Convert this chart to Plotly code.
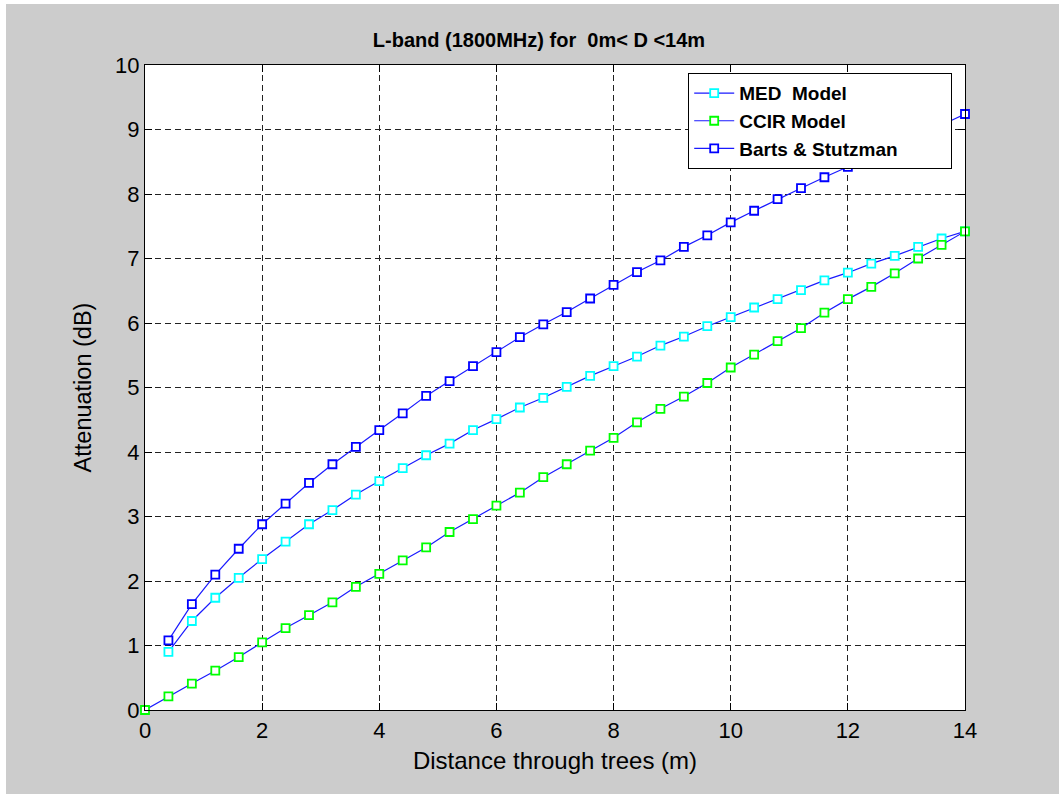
import plotly.graph_objects as go

# ---- data ----
x_ccir = [0, 0.4, 0.8, 1.2, 1.6, 2.0, 2.4, 2.8, 3.2, 3.6, 4.0, 4.4, 4.8, 5.2, 5.6, 6.0, 6.4, 6.8,
          7.2, 7.6, 8.0, 8.4, 8.8, 9.2, 9.6, 10.0, 10.4, 10.8, 11.2, 11.6, 12.0, 12.4, 12.8, 13.2,
          13.6, 14.0]
x_med = x_ccir[1:]
x_barts = x_ccir[1:]

med = [0.90, 1.38, 1.74, 2.05, 2.34, 2.61, 2.88, 3.10, 3.34, 3.55, 3.75, 3.95, 4.13, 4.34, 4.51,
       4.69, 4.84, 5.01, 5.18, 5.33, 5.48, 5.65, 5.79, 5.95, 6.09, 6.24, 6.37, 6.51, 6.66, 6.78,
       6.92, 7.04, 7.18, 7.31, 7.42]

ccir = [0.0, 0.21, 0.41, 0.61, 0.82, 1.05, 1.27, 1.47, 1.67, 1.91, 2.11, 2.32, 2.52, 2.76, 2.96,
        3.17, 3.37, 3.61, 3.81, 4.02, 4.22, 4.46, 4.67, 4.86, 5.07, 5.31, 5.51, 5.72, 5.92, 6.16,
        6.37, 6.56, 6.77, 7.00, 7.21, 7.42]

barts = [1.08, 1.64, 2.10, 2.50, 2.88, 3.20, 3.52, 3.81, 4.08, 4.34, 4.60, 4.87, 5.10, 5.33, 5.55,
         5.78, 5.98, 6.17, 6.38, 6.59, 6.79, 6.97, 7.18, 7.36, 7.56, 7.74, 7.92, 8.09, 8.26, 8.42,
         8.58, 8.75, 8.91, 9.07, 9.24]

series_names = ["MED  Model", "CCIR Model", "Barts & Stutzman"]
marker_colors = ["#00ffff", "#00ff00", "#0000ff"]

x_ticks = [0, 2, 4, 6, 8, 10, 12, 14]
y_ticks = [0, 1, 2, 3, 4, 5, 6, 7, 8, 9, 10]

title_text = "L-band (1800MHz) for  0m< D <14m"
x_title = "Distance through trees (m)"
y_title = "Attenuation (dB)"

# ---- figure ----
W, H = 1059, 794
ML, MR, MT, MB = 145, 94, 65, 84
FONT = "Liberation Sans, Arial, sans-serif"

fig = go.Figure()
pads = ["", "", "&nbsp;" * 9]
for xs, ys, name, mc, pad in [(x_med, med, series_names[0], marker_colors[0], pads[0]),
                              (x_ccir, ccir, series_names[1], marker_colors[1], pads[1]),
                              (x_barts, barts, series_names[2], marker_colors[2], pads[2])]:
    fig.add_trace(go.Scatter(
        x=xs, y=ys, name="<b>" + name + "</b>" + pad, mode="lines+markers",
        line=dict(color="#1a1aff", width=1.2),
        marker=dict(symbol="square", size=8, color="white",
                    line=dict(color=mc, width=1.8)),
        cliponaxis=False,
    ))

axis_common = dict(
    showline=True, linecolor="black", linewidth=1.2, mirror="allticks",
    ticks="inside", ticklen=7, tickcolor="black", tickwidth=1,
    showgrid=True, gridcolor="#222222", gridwidth=1, griddash="6px,4px",
    zeroline=False,
    tickfont=dict(family=FONT, size=22, color="black"),
)

fig.update_xaxes(range=[0, 14], tickvals=x_ticks, ticktext=[str(v) for v in x_ticks],
                 title=dict(text=x_title, standoff=10,
                            font=dict(family=FONT, size=24, color="black")),
                 **axis_common)
fig.update_yaxes(range=[0, 10], tickvals=y_ticks, ticktext=[str(v) for v in y_ticks],
                 title=dict(text=y_title, standoff=16,
                            font=dict(family=FONT, size=23.5, color="black")),
                 **axis_common)

pw = W - ML - MR
ph = H - MT - MB

fig.update_layout(
    width=W, height=H,
    margin=dict(l=ML, r=MR, t=MT, b=MB, pad=0),
    paper_bgcolor="#cccccc", plot_bgcolor="white",
    title=dict(text="<b>" + title_text + "</b>", x=539 / W, xanchor="center",
               y=1 - 40 / H, yanchor="middle",
               font=dict(family="Liberation Sans Narrow, Arial Narrow, Liberation Sans, Arial",
                         size=20, color="black")),
    legend=dict(x=(688 - ML) / pw, y=(H - MB - 73) / ph,
                xanchor="left", yanchor="top",
                bgcolor="white", bordercolor="black", borderwidth=1.2,
                font=dict(family=FONT, size=19, color="black"),
                tracegroupgap=0, itemwidth=40),
    showlegend=True,
)

# thin white frame strips at top/left of the picture (screenshot border)
fig.add_shape(type="rect", xref="paper", yref="paper",
              x0=-ML / pw, x1=(W - ML) / pw, y0=(H - MB - 4) / ph, y1=(H - MB) / ph + 0.01,
              fillcolor="white", line=dict(width=0), layer="below")
fig.add_shape(type="rect", xref="paper", yref="paper",
              x0=-ML / pw - 0.01, x1=(6 - ML) / pw, y0=-MB / ph - 0.01, y1=(H - MB) / ph + 0.01,
              fillcolor="white", line=dict(width=0), layer="below")

fig.write_html("out.html")
